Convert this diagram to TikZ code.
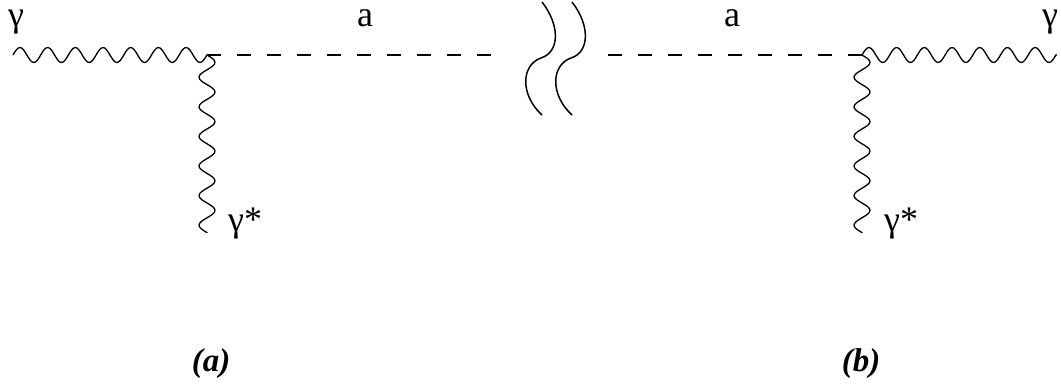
\documentclass[tikz,border=0pt]{standalone}
\usepackage{fontspec}
\setmainfont{Liberation Serif}
\usetikzlibrary{decorations, positioning}

% sine wave with whole half periods, no straight tail
\pgfdeclaredecoration{wavy}{up}{
  \state{up}[switch if less than=+.45\pgfdecorationsegmentlength to final,
             width=+.5\pgfdecorationsegmentlength, next state=down]{
    \pgfpathsine{\pgfqpoint{.25\pgfdecorationsegmentlength}{\pgfdecorationsegmentamplitude}}
    \pgfpathcosine{\pgfqpoint{.25\pgfdecorationsegmentlength}{-\pgfdecorationsegmentamplitude}}
  }
  \state{down}[switch if less than=+.45\pgfdecorationsegmentlength to final,
               width=+.5\pgfdecorationsegmentlength, next state=up]{
    \pgfpathsine{\pgfqpoint{.25\pgfdecorationsegmentlength}{-\pgfdecorationsegmentamplitude}}
    \pgfpathcosine{\pgfqpoint{.25\pgfdecorationsegmentlength}{\pgfdecorationsegmentamplitude}}
  }
  \state{final}{\pgfpathlineto{\pgfpointdecoratedpathlast}}
}

\begin{document}
\begin{tikzpicture}[x=1pt, y=-1pt,
    photon/.style={decorate, decoration={wavy, segment length=27.7pt, amplitude=7.5pt}, line width=1.3pt},
    vphoton/.style={photon, decoration={wavy, segment length=29.6pt, amplitude=8pt}},
    axion/.style={line width=2.4pt, dash pattern=on 14pt off 16pt},
    breakline/.style={line width=1.5pt},
    lbl/.style={font=\fontsize{36}{40}\selectfont, anchor=base, inner sep=0pt, text height=18pt},
    caption/.style={font=\fontsize{33}{36}\selectfont\bfseries\itshape, anchor=base, inner sep=0pt}
]
\useasboundingbox (0,0) rectangle (1061,385);

% Vertices and free ends of diagram (a)
\coordinate (va) at (207,55);
\coordinate (ga) at (13,55);
\coordinate (sa) at (207,233);
\coordinate (ea) at (491,55);

% Vertices and free ends of diagram (b)
\coordinate (vb) at (862,55);
\coordinate (gb) at (1057,55);
\coordinate (sb) at (862,233);
\coordinate (eb) at (608,55);

% Lines
\draw[photon] (ga) -- (va);
\draw[vphoton] (va) -- (sa);
\draw[axion] (va) -- (ea);
\draw[photon] (vb) -- (gb);
\draw[vphoton] (vb) -- (sb);
\draw[axion] (vb) -- (eb);

% Break between the two diagrams
\foreach \dx in {0,30} {
  \draw[breakline, xshift=\dx pt] (542,2) .. controls (560,25) and (560,52) .. (541,58)
    .. controls (521,65) and (520,95) .. (542,115);
}

% Labels
\node[lbl] (gla) at (16,27) {γ};
\node[lbl] (ala) at (365,27) {a};
\node[lbl] (alb) at (732,27) {a};
\node[lbl] (glb) at (1050,27) {γ};
\node[lbl, anchor=base west] (sla) at (228,232) {γ*};
\node[lbl, anchor=base west] (slb) at (884,232) {γ*};

\node[caption] (capa) at (211,371) {(a)};
\node[caption] (capb) at (861,371) {(b)};

\end{tikzpicture}
\end{document}
